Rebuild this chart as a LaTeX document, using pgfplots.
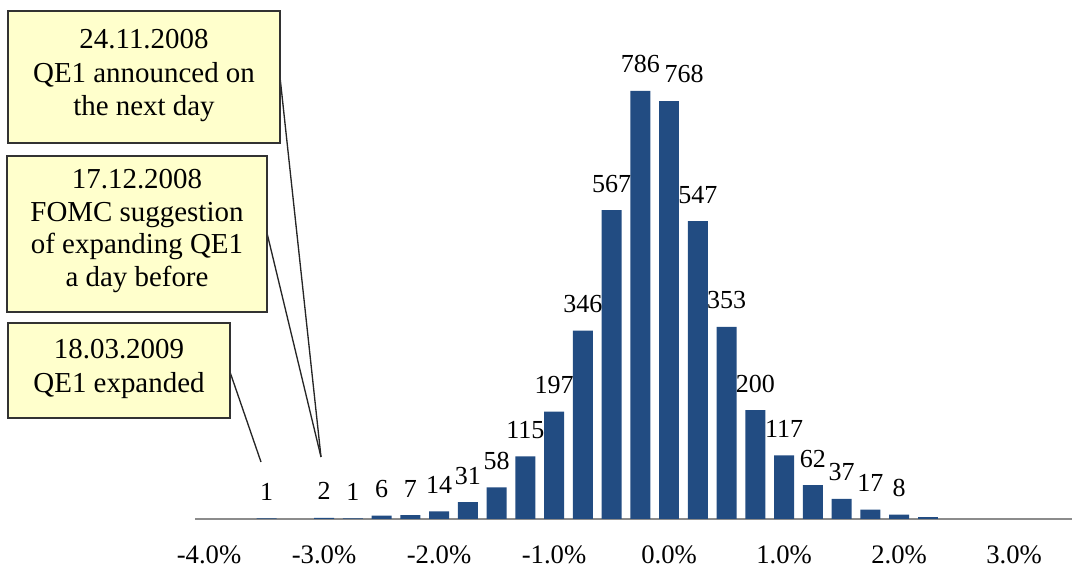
\documentclass[border=0pt]{standalone}
\usepackage{pgfplots}
\pgfplotsset{compat=1.18}
\usepackage{fontspec}
\setmainfont{Liberation Serif}
\definecolor{barblue}{RGB}{34,76,130}
\definecolor{axgray}{RGB}{140,140,140}
\definecolor{boxfill}{RGB}{255,255,204}
\definecolor{boxdraw}{RGB}{50,50,50}
\begin{document}
\begin{tikzpicture}
\useasboundingbox (0,0) rectangle (804.75pt,425.25pt);
\begin{axis}[
  at={(146.25pt,36pt)}, anchor=south west,
  scale only axis, width=657.75pt, height=389.25pt,
  xmin=-4.122, xmax=3.504, ymin=0, ymax=953,
  axis x line=bottom, axis y line=none,
  axis line style={draw=axgray, line width=1.2pt, -},
  xtick={-4,-3,-2,-1,0,1,2,3},
  xticklabels={-4.0\%,-3.0\%,-2.0\%,-1.0\%,0.0\%,1.0\%,2.0\%,3.0\%},
  major tick length=0pt,
  xticklabel style={anchor=base, yshift=-33pt, inner sep=0pt, font=\fontsize{20}{24}\selectfont},
  ytick=\empty,
  clip=false,
  /pgf/number format/assume math mode=true,
  ybar, bar width=15pt,
  every node near coord/.append style={anchor=base, yshift=13.5pt, inner sep=0pt, text=black, font=\fontsize{19.5}{23}\selectfont},
]
\addplot[fill=barblue, draw=none, bar shift=0pt, nodes near coords]
coordinates {(-3.5,1) (-3.0,2) (-2.75,1) (-2.5,6) (-2.25,7) (-2.0,14) (-1.75,31) (-1.5,58) (-1.25,115) (-1.0,197) (-0.75,346) (-0.5,567) (-0.25,786) (0.25,547) (0.5,353) (0.75,200) (1.0,117) (1.25,62) (1.5,37) (1.75,17) (2.0,8)};
\addplot[fill=barblue, draw=none, bar shift=0pt, nodes near coords,
  every node near coord/.append style={xshift=11.25pt}]
coordinates {(0,768)};
\addplot[fill=barblue, draw=none, bar shift=0pt] coordinates {(2.25,4)};
\end{axis}
% callout lines
\draw[line width=1pt, black!85] (210pt,367.5pt) -- (240.75pt,82.5pt);
\draw[line width=1pt, black!85] (200.25pt,250.5pt) -- (240.75pt,82.5pt);
\draw[line width=1pt, black!85] (172.5pt,146.25pt) -- (195.75pt,78.75pt);
% boxes
\draw[fill=boxfill, draw=boxdraw, line width=1.1pt] (6pt,318pt) rectangle (210pt,417pt);
\node[align=center, font=\fontsize{21.7}{25}\selectfont, inner sep=0pt] at (108pt,368.5pt) {24.11.2008\\QE1 announced on\\the next day};
\draw[fill=boxfill, draw=boxdraw, line width=1.1pt] (5.25pt,191.25pt) rectangle (200.25pt,308.25pt);
\node[align=center, font=\fontsize{21.7}{24.5}\selectfont, inner sep=0pt] at (102.75pt,252pt) {17.12.2008\\FOMC suggestion\\of expanding QE1\\a day before};
\draw[fill=boxfill, draw=boxdraw, line width=1.1pt] (6pt,111.75pt) rectangle (172.5pt,183pt);
\node[align=center, font=\fontsize{21.7}{25}\selectfont, inner sep=0pt] at (89.25pt,148.5pt) {18.03.2009\\QE1 expanded};
\end{tikzpicture}
\end{document}
